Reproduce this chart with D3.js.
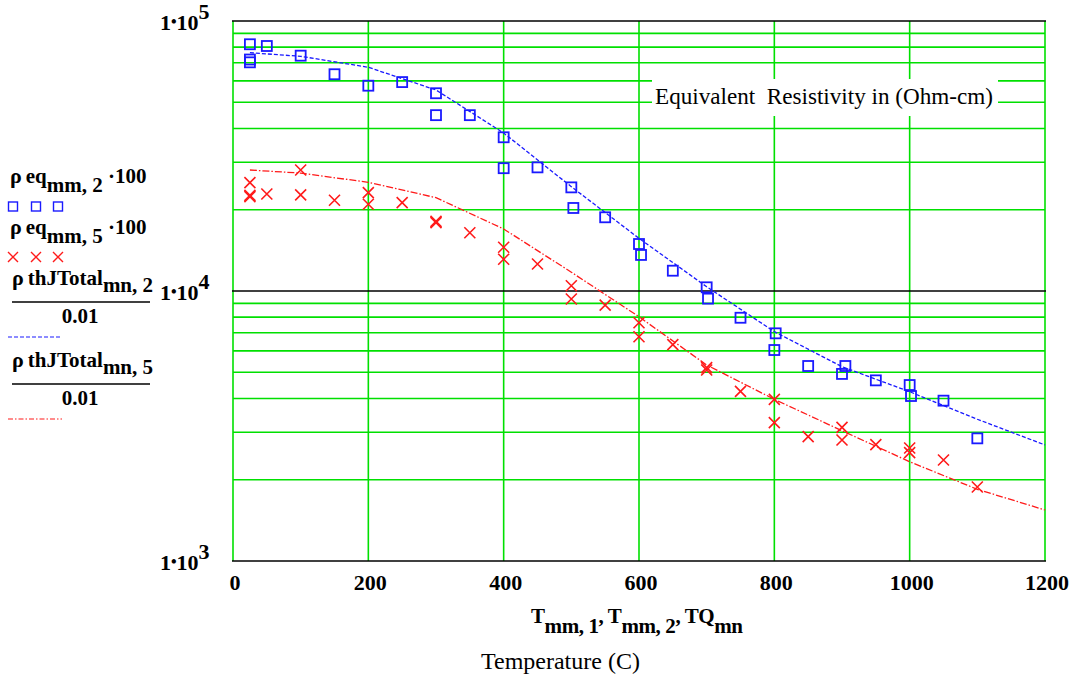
<!DOCTYPE html>
<html><head><meta charset="utf-8">
<script src="https://cdn.jsdelivr.net/npm/d3@7"></script>
<style>body{margin:0;background:#fff}svg{display:block}</style>
</head><body>
<svg id="c" width="1073" height="679"></svg>
<script>
// ---- data ----
const xTicks = [0,200,400,600,800,1000,1200];
const yTickExps = [3,4,5];
const blueT = [25,25,25,50,100,150,200,250,300,300,350,400,400,450,500,503,550,600,603,650,700,702,750,802,800,850,905,900,950,1000,1002,1050,1100];
const blueV = [82000,72000,70300,80800,74400,63500,57600,59400,54000,44800,44800,37100,28500,28700,24200,20300,18750,14930,13600,11890,10320,9370,7960,6970,6045,5275,5275,4930,4667,4485,4084,3925,2846];
const redT = [25,25,25,50,100,100,150,200,200,250,300,300,350,400,400,450,500,500,550,600,600,650,700,700,750,800,800,850,900,900,950,1000,1000,1050,1100];
const redV = [25190,22360,22600,22870,28060,22700,21680,23130,20960,21240,17910,18100,16440,14520,13110,12590,10460,9340,8870,7630,6770,6330,5200,5100,4250,3970,3253,2888,3126,2807,2697,2620,2520,2366,1880];
const fitT = [25,100,200,300,400,500,600,700,800,900,1000,1100,1200];
const blueFit = [76300,74000,67400,55530,38460,24340,15670,10370,7070,5245,4236,3350,2690];
const redFit = [28060,27330,25270,22160,16970,11740,8030,5320,3970,3038,2332,1843,1545];

const svg = d3.select('#c');
const FONT = '"Liberation Serif","Times New Roman",serif';
const GREEN = '#00e000', BLUE = '#1a1aff', RED = '#ff1a1a';
const x = d3.scaleLinear().domain([0,1200]).range([233,1045]);
const y = d3.scaleLog().domain([1e3,1e5]).range([561,21]);

// grid
const g = svg.append('g');
const minor = [];
[1e3,1e4].forEach(d => { for (let k=2;k<=9;k++) minor.push(d*k); });
g.selectAll('line.hm').data(minor).enter().append('line')
  .attr('x1',x(0)).attr('x2',x(1200)).attr('y1',d=>y(d)).attr('y2',d=>y(d))
  .attr('stroke',GREEN).attr('stroke-width',1.6);
g.selectAll('line.v').data(xTicks).enter().append('line')
  .attr('x1',d=>x(d)).attr('x2',d=>x(d)).attr('y1',y(1e5)).attr('y2',y(1e3))
  .attr('stroke',GREEN).attr('stroke-width',1.6);
g.selectAll('line.hM').data(yTickExps.map(e=>Math.pow(10,e))).enter().append('line')
  .attr('x1',x(0)-1).attr('x2',x(1200)+1).attr('y1',d=>y(d)).attr('y2',d=>y(d))
  .attr('stroke','#000').attr('stroke-width',1.6);

// annotation box
svg.append('rect').attr('x',652).attr('y',79).attr('width',346).attr('height',37).attr('fill','#fff');
svg.append('text').attr('x',655).attr('y',104).attr('font-family',FONT).attr('font-size',24)
  .attr('textLength',338).attr('lengthAdjust','spacingAndGlyphs')
  .text('Equivalent\u00a0 Resistivity in (Ohm-cm)');

// fit lines
const line = d3.line().x(d=>x(d[0])).y(d=>y(d[1]));
svg.append('path').datum(fitT.map((t,i)=>[t,blueFit[i]])).attr('d',line)
  .attr('fill','none').attr('stroke',BLUE).attr('stroke-width',1.3).attr('stroke-dasharray','4,2');
svg.append('path').datum(fitT.map((t,i)=>[t,redFit[i]])).attr('d',line)
  .attr('fill','none').attr('stroke',RED).attr('stroke-width',1.3).attr('stroke-dasharray','7,2,1.5,2');

// markers
const S = 10;
svg.selectAll('rect.sq').data(blueT.map((t,i)=>[t,blueV[i]])).enter().append('rect')
  .attr('x',d=>x(d[0])-S/2).attr('y',d=>y(d[1])-S/2).attr('width',S).attr('height',S)
  .attr('fill','none').attr('stroke',BLUE).attr('stroke-width',1.8);
const xm = svg.selectAll('g.xm').data(redT.map((t,i)=>[t,redV[i]])).enter().append('g')
  .attr('transform',d=>`translate(${x(d[0])},${y(d[1])})`);
xm.append('path').attr('d','M-5.5,-5.5L5.5,5.5M-5.5,5.5L5.5,-5.5').attr('stroke',RED).attr('stroke-width',1.6);

// y tick labels
yTickExps.forEach(e => {
  const t = svg.append('text').attr('x',160).attr('y',y(Math.pow(10,e))+9)
    .attr('font-family',FONT).attr('font-size',22).attr('font-weight','bold');
  t.append('tspan').text('1');
  t.append('tspan').attr('font-size',16).attr('dy',-3).text('•');
  t.append('tspan').attr('font-size',22).attr('dy',3).text('10');
  t.append('tspan').attr('dy',-11).text(String(e));
});
// x tick labels
svg.selectAll('text.xt').data(xTicks).enter().append('text')
  .attr('x',d=>x(d)+2).attr('y',590).attr('text-anchor','middle')
  .attr('font-family',FONT).attr('font-size',22).attr('font-weight','bold').text(d=>d);

// x axis title
const xt = svg.append('text').attr('x',531).attr('y',623).attr('font-family',FONT)
  .attr('font-size',21).attr('font-weight','bold')
  .attr('textLength',212).attr('lengthAdjust','spacing');
xt.append('tspan').text('T');
xt.append('tspan').attr('dy',10).text('mm, 1');
xt.append('tspan').attr('dy',-10).text(', T');
xt.append('tspan').attr('dy',10).text('mm, 2');
xt.append('tspan').attr('dy',-10).text(', TQ');
xt.append('tspan').attr('dy',10).text('mn');
svg.append('text').attr('x',481).attr('y',669).attr('font-family',FONT).attr('font-size',24)
  .text('Temperature (C)');

// legend
function eqLabel(yb, sub){
  const t = svg.append('text').attr('x',10).attr('y',yb).attr('font-family',FONT)
    .attr('font-size',22).attr('font-weight','bold');
  t.append('tspan').text('ρ');
  t.append('tspan').attr('dx',4).attr('font-size',21).text('eq');
  t.append('tspan').attr('dy',9).attr('font-size',21).text('mm, ' + sub);
  t.append('tspan').attr('dy',-9).attr('font-size',21).text(' ·100');
}
function thLabel(yb, sub){
  const t = svg.append('text').attr('x',12).attr('y',yb).attr('font-family',FONT)
    .attr('font-size',22).attr('font-weight','bold');
  t.append('tspan').text('ρ');
  t.append('tspan').attr('dx',4).attr('font-size',21).text('thJTotal');
  t.append('tspan').attr('dy',7).attr('font-size',21).text('mn, ' + sub);
  svg.append('line').attr('x1',12).attr('x2',150).attr('y1',yb+17).attr('y2',yb+17).attr('stroke','#000').attr('stroke-width',1.5);
  svg.append('text').attr('x',80).attr('y',yb+38).attr('text-anchor','middle').attr('font-family',FONT)
    .attr('font-size',21).attr('font-weight','bold').text('0.01');
}
eqLabel(183,'2');
[13,36,58].forEach(cx => svg.append('rect').attr('x',cx-4.5).attr('y',202).attr('width',9).attr('height',9)
  .attr('fill','none').attr('stroke',BLUE).attr('stroke-width',1.4));
eqLabel(234,'5');
[13,36,58].forEach(cx => svg.append('path').attr('d',`M${cx-5},${252}L${cx+5},${262}M${cx-5},${262}L${cx+5},${252}`)
  .attr('stroke',RED).attr('stroke-width',1.4));
thLabel(285,'2');
svg.append('line').attr('x1',8).attr('x2',62).attr('y1',337).attr('y2',337).attr('stroke',BLUE).attr('stroke-width',1.2).attr('stroke-dasharray','4,2');
thLabel(367,'5');
svg.append('line').attr('x1',8).attr('x2',62).attr('y1',419).attr('y2',419).attr('stroke',RED).attr('stroke-width',1.2).attr('stroke-dasharray','5,2,1.5,2');
</script>
</body></html>
